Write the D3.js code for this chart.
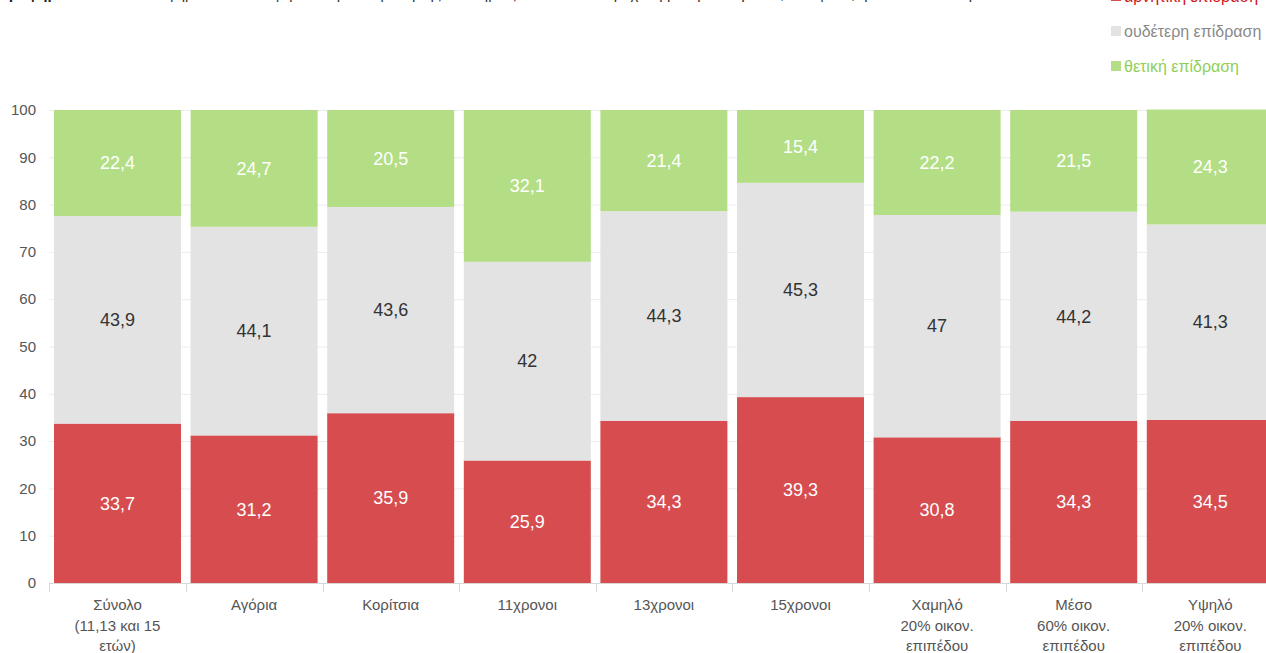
<!DOCTYPE html>
<html><head><meta charset="utf-8">
<script src="https://cdn.jsdelivr.net/npm/d3@7"></script>
<style>body{margin:0;background:#fff;overflow:hidden}svg{display:block;font-family:"Liberation Sans",Arial,sans-serif}</style>
</head><body><svg id="c" width="1266" height="653"></svg>
<script>
const categories = [["Σύνολο","(11,13 και 15","ετών)"],["Αγόρια"],["Κορίτσια"],["11χρονοι"],["13χρονοι"],["15χρονοι"],["Χαμηλό","20% οικον.","επιπέδου"],["Μέσο","60% οικον.","επιπέδου"],["Υψηλό","20% οικον.","επιπέδου"]];
const negative = [33.7,31.2,35.9,25.9,34.3,39.3,30.8,34.3,34.5];
const neutral  = [43.9,44.1,43.6,42,44.3,45.3,47,44.2,41.3];
const positive = [22.4,24.7,20.5,32.1,21.4,15.4,22.2,21.5,24.3];
const seriesNames = ["αρνητική επίδραση","ουδέτερη επίδραση","θετική επίδραση"];
const yTicks = [0,10,20,30,40,50,60,70,80,90,100];

const colors = ["#d64c4f","#e3e3e3","#b3de85"];
const labelColors = ["#ffffff","#333333","#ffffff"];
const legendText = ["#d0141a","#8a8a8a","#8fcf58"];

const svg = d3.select("#c");
const idx = d3.range(categories.length);
const step = 136.6;
const x = d3.scaleBand().domain(idx).range([49.4, 49.4+9*step]).padding(0);
const y = d3.scaleLinear().domain([0,100]).range([583,110]);
const off = 4.6, bw = 127;

// title (mostly cut off at top)
const title = svg.append("text").attr("x",0).attr("y",-1).attr("font-size",15).attr("fill","#333");
title.append("tspan").attr("font-weight","bold").attr("fill","#222").text("Γράφημα 12: ");
title.append("tspan").text("Ποσοστό εφήβων που αναφέρουν την επίδραση της πανδημίας COVID-19 στη σχέση με την οικογένεια, ανά φύλο, ηλικία και οικονομικό επίπεδο");
const tl = title.node().getComputedTextLength();
if (tl > 1060) title.attr("font-size", 15*1060/tl);

// gridlines
svg.append("g").selectAll("line").data(yTicks.filter(d=>d>0)).join("line")
  .attr("x1",49).attr("x2",1266).attr("y1",d=>y(d)+0.5).attr("y2",d=>y(d)+0.5)
  .attr("stroke","#ececec").attr("stroke-width",1);

// y labels
svg.append("g").selectAll("text").data(yTicks).join("text")
  .attr("x",36).attr("y",d=>y(d)).attr("dy","0.35em").attr("text-anchor","end")
  .attr("font-size",15).attr("fill","#555").text(d=>d);

// stacked data
const rows = idx.map(i=>({i, v:[negative[i],neutral[i],positive[i]]}));
const stack = d3.stack().keys([0,1,2]).value((d,k)=>d.v[k]);
const stacked = stack(rows);

const g = svg.append("g");
stacked.forEach((layer,k)=>{
  g.append("g").selectAll("rect").data(layer).join("rect")
    .attr("x",d=>x(d.data.i)+off).attr("width",bw)
    .attr("y",d=>y(d[1])).attr("height",d=>y(d[0])-y(d[1]))
    .attr("fill",colors[k]);
  g.append("g").selectAll("text").data(layer).join("text")
    .attr("x",d=>x(d.data.i)+off+bw/2).attr("y",d=>y((d[0]+d[1])/2))
    .attr("dy","0.35em").attr("text-anchor","middle").attr("font-size",18)
    .attr("fill",labelColors[k]).text(d=>String(d.data.v[k]).replace(".",","));
});

// x axis
svg.append("line").attr("x1",49).attr("x2",1266).attr("y1",583.5).attr("y2",583.5).attr("stroke","#d8d8d8");
const bounds = idx.map(i=>x(i)).concat([x(8)+x.bandwidth()]);
svg.append("g").selectAll("line").data(bounds).join("line")
  .attr("x1",d=>Math.round(d)+0.5).attr("x2",d=>Math.round(d)+0.5).attr("y1",583).attr("y2",592)
  .attr("stroke","#d8d8d8");
const cx = i=>x(i)+off+bw/2;
const xl = svg.append("g").selectAll("text").data(idx).join("text")
  .attr("y",610).attr("text-anchor","middle")
  .attr("font-size",15).attr("fill","#555");
xl.each(function(i){
  const t=d3.select(this);
  categories[i].forEach((s,j)=>t.append("tspan").attr("x",cx(i)).attr("dy",j?20.5:0).text(s));
});

// legend
const lg = svg.append("g");
seriesNames.forEach((n,k)=>{
  const cy = -4 + k*35;
  lg.append("rect").attr("x",1111).attr("y",cy-5).attr("width",10).attr("height",10).attr("fill",colors[k]);
  lg.append("text").attr("x",1124).attr("y",cy).attr("dy","0.35em").attr("font-size",16)
    .attr("fill",legendText[k]).text(n);
});
</script></body></html>
